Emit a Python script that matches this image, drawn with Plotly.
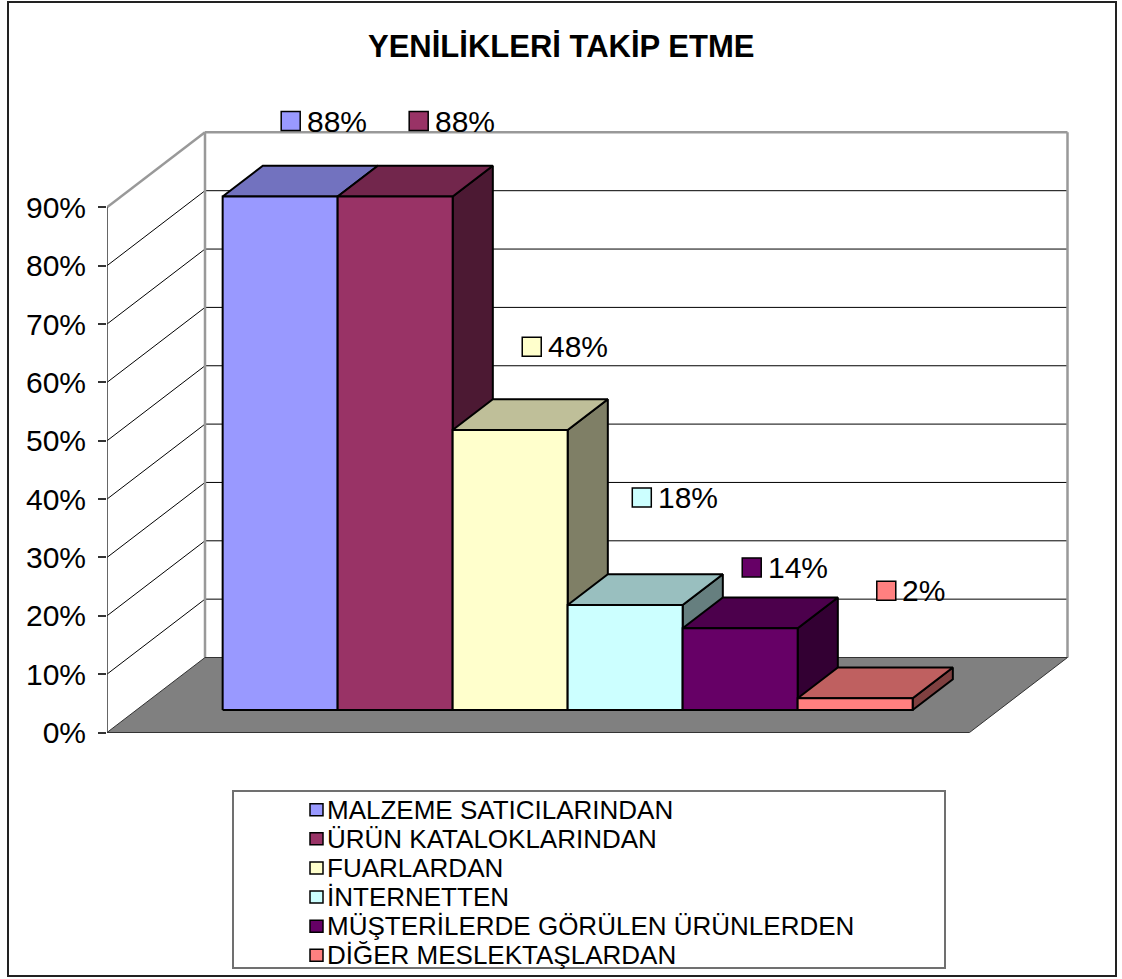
import plotly.graph_objects as go

# ---- data ----
categories = [
    "MALZEME SATICILARINDAN",
    "ÜRÜN KATALOKLARINDAN",
    "FUARLARDAN",
    "İNTERNETTEN",
    "MÜŞTERİLERDE GÖRÜLEN ÜRÜNLERDEN",
    "DİĞER MESLEKTAŞLARDAN",
]
values = [88, 88, 48, 18, 14, 2]
tick_values = [0, 10, 20, 30, 40, 50, 60, 70, 80, 90]
tick_labels = [f"{v}%" for v in tick_values]
title_text = "YENİLİKLERİ TAKİP ETME"

# ---- styling ----
front_colors = ["#9999FF", "#993366", "#FFFFCC", "#CCFFFF", "#660066", "#FF8080"]
# placement of each value tag relative to the top of its bar
label_lift = [10.3, 10.3, 11.6, 15.8, 7.8, 15.8]          # percentage points upward
label_shift = [-0.083, 0.03, 0.013, -0.03, -0.074, 0.096]  # bar widths sideways
FONT = "Liberation Sans, Arial, Helvetica, sans-serif"

W, H = 1122, 979
ML = 107                 # left margin = position of the value axis
PX_PER_X = 115.0         # pixels per bar width
Y0_PX = 732.5            # pixel row of 0 % on the value axis
PX_PER_PCT = 5.835       # pixels per percentage point

FLOOR_W = 7.5            # floor width in bar widths
GAP = 0.75               # empty space left and right of the bar group
DEPTH_DX = 98 / PX_PER_X         # oblique depth offset (x units)
DEPTH_DY = 75 / PX_PER_PCT       # oblique depth offset (y units)
BAR_D0, BAR_D1 = 0.30, 0.71      # bar depth span inside the floor
WALL_TOP = tick_values[-1]


def proj(x, y, d):
    """Oblique projection of a point at depth d (0 = front, 1 = back wall)."""
    return x + d * DEPTH_DX, y + d * DEPTH_DY


def shade(hex_color, f):
    h = hex_color.lstrip("#")
    r, g, b = (int(h[i:i + 2], 16) for i in (0, 2, 4))
    return "#{:02X}{:02X}{:02X}".format(int(r * f), int(g * f), int(b * f))


def poly(points, fill, line_color="black", line_width=2):
    xs = [p[0] for p in points] + [points[0][0]]
    ys = [p[1] for p in points] + [points[0][1]]
    return go.Scatter(x=xs, y=ys, mode="lines", fill="toself", fillcolor=fill,
                      line=dict(color=line_color, width=line_width),
                      hoverinfo="skip", showlegend=False)


def segs(pairs, color, width):
    xs, ys = [], []
    for a, b in pairs:
        xs += [a[0], b[0], None]
        ys += [a[1], b[1], None]
    return go.Scatter(x=xs, y=ys, mode="lines", line=dict(color=color, width=width),
                      hoverinfo="skip", showlegend=False)


fig = go.Figure()

# walls: grid lines on the left and back walls
grid = []
for v in tick_values[1:-1]:
    grid.append((proj(0, v, 0), proj(0, v, 1)))
    grid.append((proj(0, v, 1), proj(FLOOR_W, v, 1)))
fig.add_trace(segs(grid, "black", 1))

# wall outlines
edges = [
    (proj(0, WALL_TOP, 0), proj(0, WALL_TOP, 1)),
    (proj(0, WALL_TOP, 1), proj(FLOOR_W, WALL_TOP, 1)),
    (proj(FLOOR_W, WALL_TOP, 1), proj(FLOOR_W, 0, 1)),
    (proj(0, 0, 1), proj(0, WALL_TOP, 1)),
]
fig.add_trace(segs(edges, "#999999", 2.5))

# floor
fig.add_trace(poly([proj(0, 0, 0), proj(FLOOR_W, 0, 0), proj(FLOOR_W, 0, 1), proj(0, 0, 1)],
                   "#808080", line_color="#333333", line_width=1))

# value axis line
fig.add_trace(segs([((0, 0), (0, WALL_TOP))], "#333333", 1.5))

# bars: side, top, then front face, left to right
for i, v in enumerate(values):
    x0 = GAP + i
    x1 = x0 + 1
    c = front_colors[i]
    fig.add_trace(poly([proj(x1, 0, BAR_D0), proj(x1, 0, BAR_D1), proj(x1, v, BAR_D1), proj(x1, v, BAR_D0)],
                       shade(c, 0.5)))
    fig.add_trace(poly([proj(x0, v, BAR_D0), proj(x1, v, BAR_D0), proj(x1, v, BAR_D1), proj(x0, v, BAR_D1)],
                       shade(c, 0.75)))
    fig.add_trace(poly([proj(x0, 0, BAR_D0), proj(x1, 0, BAR_D0), proj(x1, v, BAR_D0), proj(x0, v, BAR_D0)],
                       c))

# value tags with legend keys
annotations = []
mid = (BAR_D0 + BAR_D1) / 2
for i, v in enumerate(values):
    lx, ly = proj(GAP + i + 0.5 + label_shift[i], v, mid)
    ly += label_lift[i]
    fig.add_trace(go.Scatter(x=[lx], y=[ly], mode="markers",
                             marker=dict(symbol="square", size=19, color=front_colors[i],
                                         line=dict(color="black", width=1.5)),
                             hoverinfo="skip", showlegend=False))
    annotations.append(dict(x=lx, y=ly, xref="x", yref="y", text=f"{v}%", showarrow=False,
                            xanchor="left", yanchor="middle", xshift=14,
                            font=dict(family=FONT, size=30, color="black")))

# helpers for pixel-based layout items (paper coordinates)
PW = W - ML


def pxx(px):
    return (px - ML) / PW


def pxy(py):
    return 1 - py / H


shapes = [
    # outer chart frame
    dict(type="rect", xref="paper", yref="paper", x0=pxx(8), x1=pxx(1116), y0=pxy(976), y1=pxy(2),
         line=dict(color="#222222", width=2), fillcolor="rgba(0,0,0,0)", layer="above"),
    # legend frame
    dict(type="rect", xref="paper", yref="paper", x0=pxx(233), x1=pxx(945), y0=pxy(968), y1=pxy(791),
         line=dict(color="#707070", width=2), fillcolor="rgba(0,0,0,0)", layer="above"),
]

row_step = 29.1
row0 = 882.5 - 2.5 * row_step
for i, name in enumerate(categories):
    cy = row0 + i * row_step
    shapes.append(dict(type="rect", xref="paper", yref="paper", x0=pxx(310), x1=pxx(323),
                       y0=pxy(cy + 6), y1=pxy(cy - 6), fillcolor=front_colors[i],
                       line=dict(color="black", width=1.5), layer="above"))
    annotations.append(dict(x=pxx(325), y=pxy(cy), xref="paper", yref="paper", text=name,
                            showarrow=False, xanchor="left", yanchor="middle",
                            font=dict(family=FONT, size=26, color="black")))

annotations.append(dict(x=pxx(561), y=pxy(47), xref="paper", yref="paper",
                        text=f"<b>{title_text}</b>", showarrow=False,
                        xanchor="center", yanchor="middle",
                        font=dict(family=FONT, size=31, color="black")))

fig.update_layout(
    width=W, height=H, autosize=False,
    margin=dict(l=ML, r=0, t=0, b=0, pad=0),
    paper_bgcolor="white", plot_bgcolor="white",
    showlegend=False,
    xaxis=dict(range=[0, PW / PX_PER_X], visible=False, fixedrange=True),
    yaxis=dict(range=[-(H - Y0_PX) / PX_PER_PCT, Y0_PX / PX_PER_PCT],
               tickvals=tick_values, ticktext=tick_labels,
               ticks="outside", ticklen=8, tickwidth=1.5, tickcolor="#333333",
               ticklabelstandoff=6,
               tickfont=dict(family=FONT, size=30, color="black"),
               showline=False, showgrid=False, zeroline=False, fixedrange=True),
    shapes=shapes,
    annotations=annotations,
)

fig.write_html("out.html")
